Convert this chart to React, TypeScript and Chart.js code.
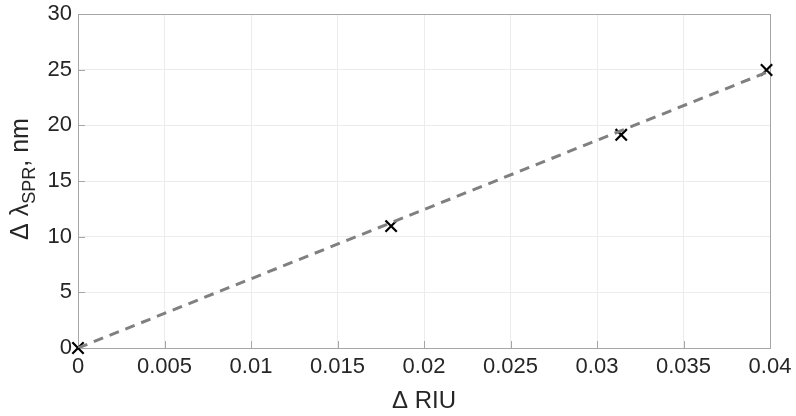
import React, { useEffect, useRef } from "react";
import { Chart, registerables } from "chart.js";

Chart.register(...registerables);

const riuValues = [0, 0.0181, 0.0314, 0.0398];
const shiftValues = [0, 10.95, 19.15, 24.97];
const fitX = [0, 0.0398];
const fitY = [0, 24.75];
const xTicks = [0, 0.005, 0.01, 0.015, 0.02, 0.025, 0.03, 0.035, 0.04];
const yTicks = [0, 5, 10, 15, 20, 25, 30];

const FONT = "'Liberation Sans', Arial, Helvetica, sans-serif";
const AXIS_COLOR = "#a6a6a6";
const TEXT_COLOR = "#262626";

const decorPlugin = {
  id: "decor",
  beforeDatasetsDraw(chart: any) {
    const { ctx, chartArea: a, scales } = chart;
    ctx.save();
    ctx.strokeStyle = AXIS_COLOR;
    ctx.lineWidth = 1;
    ctx.strokeRect(a.left + 0.5, a.top + 0.5, a.right - a.left, a.bottom - a.top);
    ctx.beginPath();
    for (const v of xTicks) {
      const px = Math.round(scales.x.getPixelForValue(v)) + 0.5;
      ctx.moveTo(px, a.bottom);
      ctx.lineTo(px, a.bottom - 7);
    }
    for (const v of yTicks) {
      const py = Math.round(scales.y.getPixelForValue(v)) + 0.5;
      ctx.moveTo(a.left, py);
      ctx.lineTo(a.left + 7, py);
    }
    ctx.stroke();
    ctx.restore();
  },
  afterDraw(chart: any) {
    const { ctx, chartArea: a } = chart;
    ctx.save();
    ctx.fillStyle = TEXT_COLOR;
    // x title
    ctx.font = `24px ${FONT}`;
    ctx.textAlign = "center";
    ctx.textBaseline = "middle";
    ctx.fillText("\u0394 RIU", (a.left + a.right) / 2, 401);
    // y title with subscript
    const main = `25px ${FONT}`;
    const sub = `18px ${FONT}`;
    const parts = [
      { t: "\u0394 \u03bb", f: main, dy: 0 },
      { t: "SPR", f: sub, dy: 7 },
      { t: ", nm", f: main, dy: 0 },
    ];
    let total = 0;
    const widths = parts.map((p) => {
      ctx.font = p.f;
      const w = ctx.measureText(p.t).width;
      total += w;
      return w;
    });
    ctx.translate(28, (a.top + a.bottom) / 2 - 2);
    ctx.rotate(-Math.PI / 2);
    ctx.textAlign = "left";
    ctx.textBaseline = "alphabetic";
    let x = -total / 2;
    parts.forEach((p, i) => {
      ctx.font = p.f;
      ctx.fillText(p.t, x, p.dy);
      x += widths[i];
    });
    ctx.restore();
  },
};

export default function App() {
  const ref = useRef<HTMLCanvasElement>(null);
  useEffect(() => {
    if (!ref.current) return;
    const chart = new Chart(ref.current, {
      type: "scatter",
      data: {
        datasets: [
          {
            type: "line",
            data: fitX.map((x, i) => ({ x, y: fitY[i] })),
            borderColor: "#808080",
            borderWidth: 3,
            borderDash: [10, 7],
            pointRadius: 0,
            fill: false,
          },
          {
            data: riuValues.map((x, i) => ({ x, y: shiftValues[i] })),
            pointStyle: "crossRot",
            pointRadius: 8,
            borderColor: "#000000",
            backgroundColor: "#000000",
            pointBorderWidth: 2.2,
            showLine: false,
            clip: false,
          },
        ],
      } as any,
      options: {
        animation: false,
        responsive: false,
        events: [],
        layout: { padding: { top: 14, right: 26, left: 0, bottom: 0 } },
        plugins: { legend: { display: false }, tooltip: { enabled: false } },
        scales: {
          x: {
            type: "linear",
            min: 0,
            max: 0.04,
            afterBuildTicks: (s: any) => {
              s.ticks = xTicks.map((v) => ({ value: v }));
            },
            afterFit: (s: any) => {
              s.height = 68;
              s.paddingLeft = 0;
              s.paddingRight = 0;
            },
            ticks: {
              font: { family: FONT, size: 22 },
              color: TEXT_COLOR,
              padding: 6,
              maxRotation: 0,
              autoSkip: false,
              callback: (v: any) => String(Number(v)),
            },
            grid: { color: "#ececec", drawTicks: false },
            border: { display: false },
          },
          y: {
            type: "linear",
            min: 0,
            max: 30,
            afterBuildTicks: (s: any) => {
              s.ticks = yTicks.map((v) => ({ value: v }));
            },
            afterFit: (s: any) => {
              s.width = 78;
              s.paddingTop = 0;
              s.paddingBottom = 0;
            },
            ticks: {
              font: { family: FONT, size: 22 },
              color: TEXT_COLOR,
              padding: 6,
              autoSkip: false,
            },
            grid: { color: "#ececec", drawTicks: false },
            border: { display: false },
          },
        },
      },
      plugins: [decorPlugin],
    } as any);
    return () => chart.destroy();
  }, []);
  return (
    <div style={{ position: "fixed", left: 0, top: 0, width: 796, height: 416, background: "#fff" }}>
      <canvas ref={ref} width={796} height={416} style={{ width: 796, height: 416 }} />
    </div>
  );
}
